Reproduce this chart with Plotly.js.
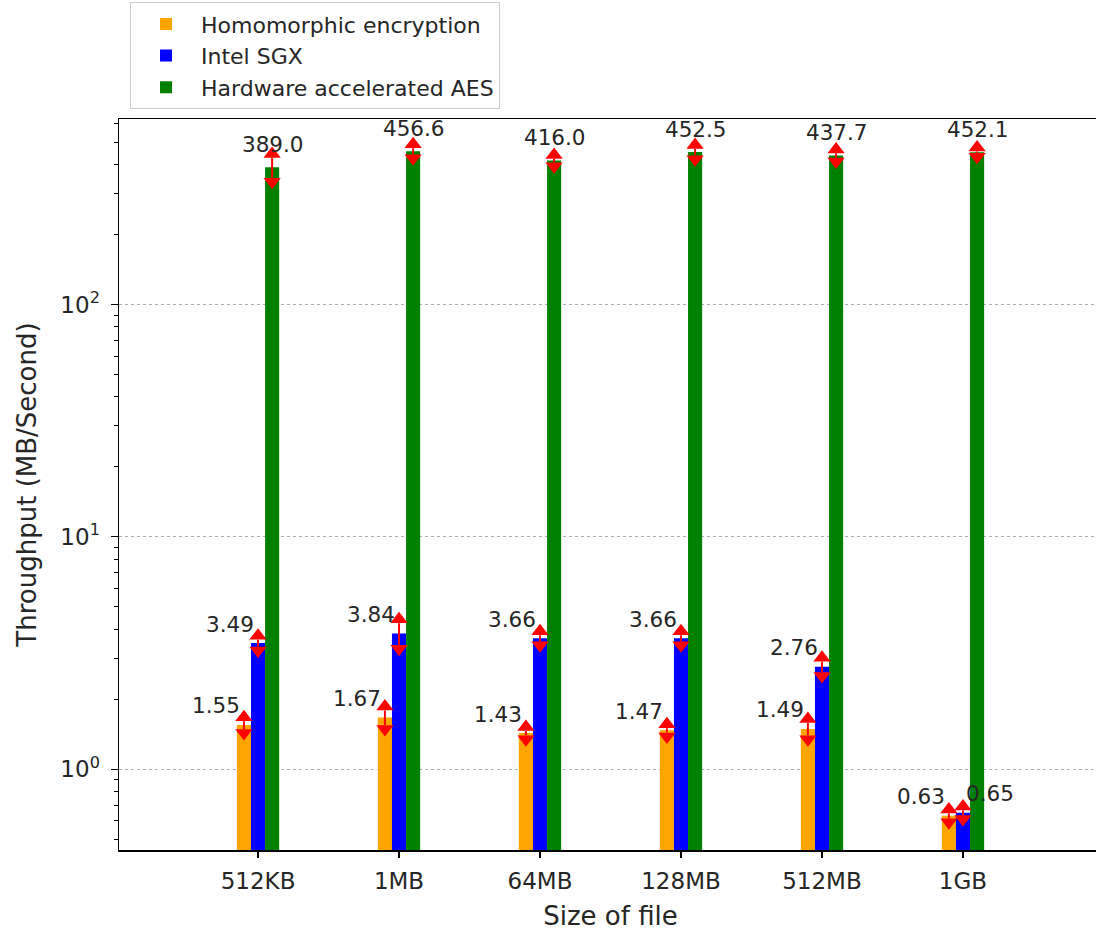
<!DOCTYPE html>
<html>
<head>
<meta charset="utf-8">
<script src="https://cdn.plot.ly/plotly-3.0.1.min.js"></script>
<style>
html, body { margin: 0; padding: 0; overflow: hidden; background: #fff; }
#chart { width: 1104px; height: 935px; }
</style>
</head>
<body>
<div id="chart"></div>
<script>
const categories = ['512KB', '1MB', '64MB', '128MB', '512MB', '1GB'];
const seriesNames = ['Homomorphic encryption', 'Intel SGX', 'Hardware accelerated AES'];
const heValues = [1.55, 1.67, 1.43, 1.47, 1.49, 0.63];
const heErrors = [0.06, 0.12, 0.03, 0.03, 0.09, 0.015];
const sgxValues = [3.49, 3.84, 3.66, 3.66, 2.76, 0.65];
const sgxErrors = [0.12, 0.41, 0.11, 0.11, 0.14, 0.015];
const aesValues = [389.0, 456.6, 416.0, 452.5, 437.7, 452.1];
const aesErrors = [38, 14, 7, 14, 9, 3];
const yTickVals = [1, 10, 100];
const yTickText = ['10<sup>0</sup>', '10<sup>1</sup>', '10<sup>2</sup>'];

const colors = ['#FFA500', '#0000FF', '#008000'];
const FONT = 'DejaVu Sans, sans-serif';
const TXT = '#262626';
const barW = 0.1;
const yRange = [-0.3476, 2.798];
const plotH = 733;
// arrowheads sit just beyond the error-bar ends (as matplotlib's caret caps do)
const capLift = Math.pow(10, 4 / (plotH / (yRange[1] - yRange[0])));

const series = [
  {name: seriesNames[0], v: heValues, e: heErrors, digits: 2, anchor: ['right','right','right','right','right','right'], yshift: 19},
  {name: seriesNames[1], v: sgxValues, e: sgxErrors, digits: 2, anchor: ['right','right','right','right','right','left'], yshift: 19},
  {name: seriesNames[2], v: aesValues, e: aesErrors, digits: 1, anchor: ['center','center','center','center','center','center'], yshift: 23}
];

const idx = categories.map((c, i) => i);
const traces = [];
const annotations = [];

series.forEach((s, k) => {
  traces.push({
    type: 'bar', name: s.name, x: idx, y: s.v,
    marker: {color: colors[k], line: {width: 0}},
    error_y: {type: 'data', array: s.e, visible: true, color: '#FF0000', thickness: 2, width: 0},
    hoverinfo: 'skip'
  });
});

series.forEach((s, k) => {
  const xs = idx.map(i => i + (k - 1) * barW);
  traces.push({
    type: 'scatter', mode: 'markers', x: xs, y: s.v.map((v, i) => (v + s.e[i]) * capLift),
    marker: {symbol: 'triangle-up', size: 15, color: '#FF0000'},
    showlegend: false, hoverinfo: 'skip', cliponaxis: false
  });
  traces.push({
    type: 'scatter', mode: 'markers', x: xs, y: s.v.map((v, i) => (v - s.e[i]) / capLift),
    marker: {symbol: 'triangle-down', size: 15, color: '#FF0000'},
    showlegend: false, hoverinfo: 'skip', cliponaxis: false
  });
  s.v.forEach((v, i) => {
    const a = s.anchor[i];
    annotations.push({
      xref: 'x', yref: 'y', x: xs[i], y: Math.log10(v),
      text: v.toFixed(s.digits), showarrow: false,
      xanchor: a, yanchor: 'middle',
      xshift: a === 'right' ? -2 : 1,
      yshift: s.yshift,
      font: {family: FONT, size: 21.5, color: TXT}
    });
  });
});

const minorVals = [];
[0.1, 1, 10, 100].forEach(d => { for (let m = 2; m <= 9; m++) minorVals.push(m * d); });

const layout = {
  width: 1104, height: 935,
  margin: {l: 119, r: 2, t: 117, b: 85},
  paper_bgcolor: '#fff', plot_bgcolor: '#fff',
  barmode: 'group', bargap: 0.7, bargroupgap: 0,
  font: {family: FONT, color: TXT},
  showlegend: true,
  legend: {
    x: 0.0112, y: 1.0135, xanchor: 'left', yanchor: 'bottom',
    bordercolor: '#cccccc', borderwidth: 1, bgcolor: '#fff',
    font: {family: FONT, size: 22, color: TXT},
    itemwidth: 60, tracegroupgap: 0, traceorder: 'normal'
  },
  xaxis: {
    type: 'linear', range: [-0.986, 5.986],
    tickmode: 'array', tickvals: idx, ticktext: categories,
    showgrid: false, zeroline: false,
    showline: true, linecolor: '#000', linewidth: 1.5, mirror: true,
    ticks: 'outside', ticklen: 6, tickwidth: 1.2, tickcolor: '#000',
    ticklabelstandoff: 4,
    tickfont: {family: FONT, size: 23, color: TXT},
    title: {text: 'Size of file', font: {family: FONT, size: 26, color: TXT}, standoff: 13}
  },
  yaxis: {
    type: 'log', range: yRange,
    tickmode: 'array', tickvals: yTickVals, ticktext: yTickText,
    showgrid: true, gridcolor: '#b0b0b0', griddash: 'dot', gridwidth: 1,
    zeroline: false,
    showline: true, linecolor: '#000', linewidth: 1.5, mirror: true,
    ticks: 'outside', ticklen: 7, tickwidth: 1.2, tickcolor: '#000',
    ticklabelstandoff: 6,
    tickfont: {family: FONT, size: 23, color: TXT},
    minor: {tickmode: 'array', tickvals: minorVals, ticks: 'outside', ticklen: 4, tickwidth: 1, tickcolor: '#000', showgrid: false},
    title: {text: 'Throughput (MB/Second)', font: {family: FONT, size: 26, color: TXT}, standoff: 16}
  },
  annotations: annotations
};

Plotly.newPlot('chart', traces, layout, {displayModeBar: false, staticPlot: true});
</script>
</body>
</html>
